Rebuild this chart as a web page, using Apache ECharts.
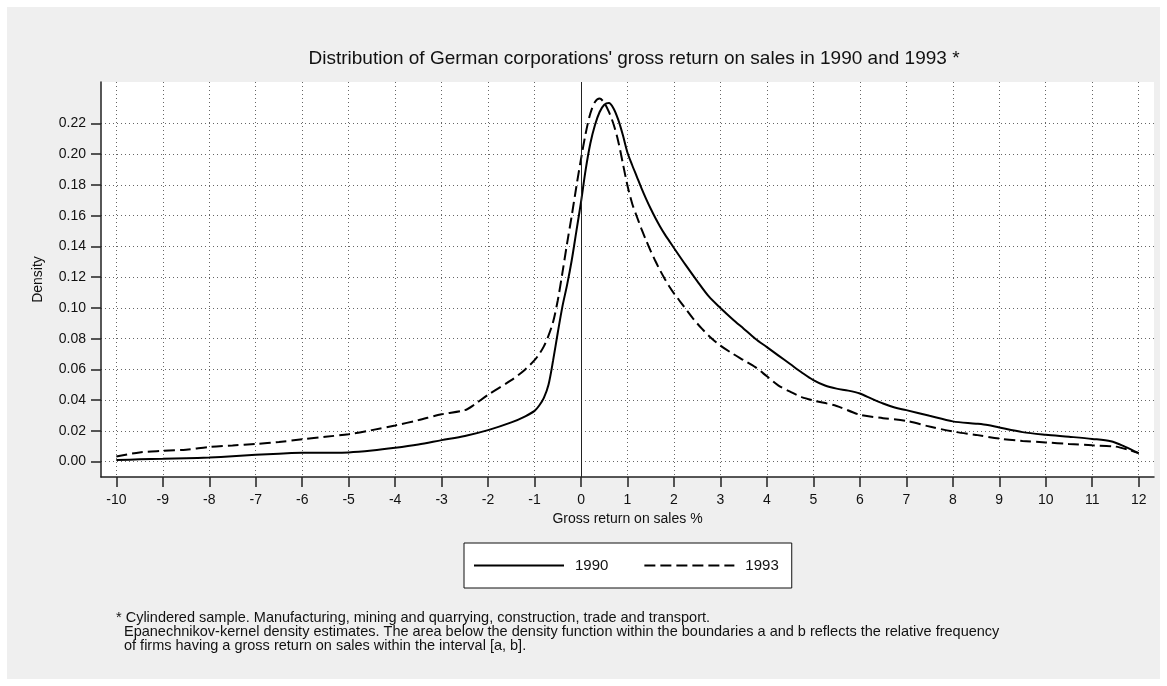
<!DOCTYPE html>
<html>
<head>
<meta charset="utf-8">
<script src="https://cdn.jsdelivr.net/npm/echarts@6/dist/echarts.min.js"></script>
<style>
html,body{margin:0;padding:0;background:#fff;}
#chart{width:1167px;height:686px;}
</style>
</head>
<body>
<div id="chart"></div>
<script>
const titleText = "Distribution of German corporations' gross return on sales in 1990 and 1993 *";
const xAxisName = "Gross return on sales %";
const yAxisName = "Density";
const seriesNames = ["1990", "1993"];
const xTicks = [-10,-9,-8,-7,-6,-5,-4,-3,-2,-1,0,1,2,3,4,5,6,7,8,9,10,11,12];
const yTicks = [0,0.02,0.04,0.06,0.08,0.10,0.12,0.14,0.16,0.18,0.20,0.22];
const footnoteLines = [
  "* Cylindered sample. Manufacturing, mining and quarrying, construction, trade and transport.",
  "Epanechnikov-kernel density estimates. The area below the density function within the boundaries a and b reflects the relative frequency",
  "of firms having a gross return on sales within the interval [a, b]."
];

const x1990 = [-10,-9.5,-9,-8.5,-8,-7.5,-7,-6.5,-6,-5.5,-5,-4.5,-4,-3.5,-3,-2.5,-2,-1.5,-1.2,
  -1,-0.9,-0.8,-0.7,-0.6,-0.5,-0.4,-0.3,-0.2,-0.1,0,0.1,0.2,0.3,0.4,0.5,0.6,0.7,0.8,0.9,
  1,1.1,1.2,1.3,1.4,1.5,1.6,1.7,1.8,1.9,2,2.25,2.5,2.75,3,3.25,3.5,3.75,4,4.25,4.5,4.75,
  5,5.25,5.5,5.75,6,6.25,6.5,6.75,7,7.5,8,8.5,8.75,9,9.5,10,10.5,11,11.4,11.7,12];
const y1990 = [0.001,0.0015,0.0018,0.0022,0.0027,0.0035,0.0044,0.0052,0.0057,0.0058,0.006,0.0072,0.009,0.0112,0.014,0.0167,0.0205,0.0255,0.0295,
  0.033,0.0365,0.0415,0.050,0.066,0.084,0.101,0.115,0.131,0.150,0.169,0.190,0.207,0.219,0.2275,0.2322,0.2333,0.2298,0.2225,0.2125,
  0.201,0.193,0.1855,0.178,0.171,0.1645,0.1585,0.153,0.148,0.1435,0.139,0.128,0.1175,0.1075,0.1,0.093,0.0865,0.08,0.0745,0.069,0.0635,0.058,
  0.053,0.0495,0.0475,0.0462,0.0443,0.041,0.0378,0.0352,0.0335,0.0298,0.0262,0.0247,0.0238,0.0222,0.0192,0.0175,0.0162,0.0148,0.0133,0.0098,0.0055];

const x1993 = [-10,-9.5,-9,-8.5,-8,-7.5,-7,-6.5,-6,-5.5,-5,-4.5,-4,-3.5,-3,-2.5,-2.3,-2,-1.5,-1.2,
  -1,-0.9,-0.8,-0.7,-0.6,-0.5,-0.4,-0.3,-0.2,-0.1,0,0.1,0.2,0.3,0.4,0.5,0.6,0.7,0.8,0.9,
  1,1.1,1.2,1.3,1.4,1.5,1.6,1.7,1.8,1.9,2,2.1,2.2,2.4,2.6,2.8,3,3.25,3.5,3.75,4,4.25,4.5,4.75,
  5,5.5,6,6.5,7,7.5,8,8.5,9,9.5,10,10.5,11,11.5,11.8,12];
const y1993 = [0.0033,0.006,0.007,0.0078,0.0095,0.0105,0.0115,0.0128,0.0145,0.0162,0.0178,0.0205,0.0235,0.027,0.0308,0.0335,0.037,0.0435,0.053,0.06,
  0.066,0.070,0.075,0.082,0.091,0.105,0.123,0.142,0.160,0.179,0.197,0.2135,0.2265,0.234,0.2362,0.2335,0.2275,0.2195,0.2085,0.194,
  0.1795,0.168,0.1595,0.1515,0.144,0.137,0.1305,0.1245,0.119,0.114,0.1095,0.1055,0.1015,0.0935,0.0865,0.0805,0.0755,0.0705,0.066,0.0615,0.0555,0.0495,0.0455,0.042,
  0.0398,0.0362,0.0305,0.0283,0.0265,0.0228,0.0196,0.0174,0.015,0.0135,0.0125,0.0115,0.0106,0.0098,0.0075,0.0055];

const zip = (xs, ys) => xs.map((x, i) => [x, ys[i]]);

const FONT = "'Liberation Sans', Arial, sans-serif";
const axisColor = '#222';
const textColor = '#111';

const chart = echarts.init(document.getElementById('chart'), null, {renderer: 'canvas'});

const graphics = [
  {type: 'rect', z: -100, silent: true, shape: {x: 7, y: 7, width: 1153, height: 672}, style: {fill: '#efefef'}}
];
footnoteLines.forEach((t, i) => {
  graphics.push({
    type: 'text', silent: true,
    x: i === 0 ? 116 : 124,
    y: 618 + i * 14,
    style: {text: t, fill: textColor, font: "14.5px " + FONT, verticalAlign: 'middle', align: 'left'}
  });
});

chart.setOption({
  backgroundColor: '#fff',
  animation: false,
  textStyle: {fontFamily: FONT},
  title: {
    text: titleText,
    left: 629, top: 44, textAlign: 'center',
    textStyle: {fontSize: 19, fontWeight: 'normal', color: textColor, fontFamily: FONT}
  },
  graphic: graphics,
  legend: {
    left: 464, top: 543,
    orient: 'horizontal',
    backgroundColor: '#fff',
    borderColor: '#111', borderWidth: 1,
    padding: [15, 13, 15, 9],
    itemWidth: 90, itemHeight: 14, itemGap: 35,
    itemStyle: {opacity: 0},
    textStyle: {fontSize: 15, color: textColor, fontFamily: FONT, padding: [0, 0, 0, 6]},
    data: seriesNames
  },
  grid: {
    left: 101, right: 13, top: 82, bottom: 209,
    show: true, backgroundColor: '#fff', borderWidth: 0
  },
  xAxis: {
    type: 'value', min: -10.33, max: 12.33,
    name: xAxisName, nameLocation: 'middle', nameGap: 35,
    nameTextStyle: {fontSize: 14, color: textColor, fontFamily: FONT},
    axisLine: {show: true, onZero: false, lineStyle: {color: axisColor, width: 1.5}},
    axisTick: {show: true, length: 10, customValues: xTicks, lineStyle: {color: axisColor, width: 1.5}},
    axisLabel: {customValues: xTicks, margin: 16, fontSize: 14, color: textColor, fontFamily: FONT, formatter: v => String(v)},
    splitLine: {show: true, lineStyle: {color: '#666', width: 1, type: [1, 3]}}
  },
  yAxis: {
    type: 'value', min: -0.01, max: 0.247,
    name: yAxisName, nameLocation: 'middle', nameGap: 56, nameRotate: 90,
    nameTextStyle: {fontSize: 14, color: textColor, fontFamily: FONT},
    axisLine: {show: true, onZero: false, lineStyle: {color: axisColor, width: 1.5}},
    axisTick: {show: true, length: 10, customValues: yTicks, lineStyle: {color: axisColor, width: 1.5}},
    axisLabel: {customValues: yTicks, margin: 15, fontSize: 14, color: textColor, fontFamily: FONT, formatter: v => v.toFixed(2)},
    splitLine: {show: true, lineStyle: {color: '#666', width: 1, type: [1, 3]}}
  },
  series: [
    {
      name: seriesNames[0], type: 'line', data: zip(x1990, y1990),
      showSymbol: false, symbol: 'none', smooth: 0.3,
      lineStyle: {color: '#000', width: 2, type: 'solid'},
      itemStyle: {color: '#000'},
      markLine: {
        silent: true, symbol: 'none', label: {show: false},
        lineStyle: {color: '#222', width: 1, type: 'solid'},
        data: [{xAxis: 0}]
      }
    },
    {
      name: seriesNames[1], type: 'line', data: zip(x1993, y1993),
      showSymbol: false, symbol: 'none', smooth: 0.3,
      lineStyle: {color: '#000', width: 2, type: [11, 5]},
      itemStyle: {color: '#000'}
    }
  ]
});
</script>
</body>
</html>
